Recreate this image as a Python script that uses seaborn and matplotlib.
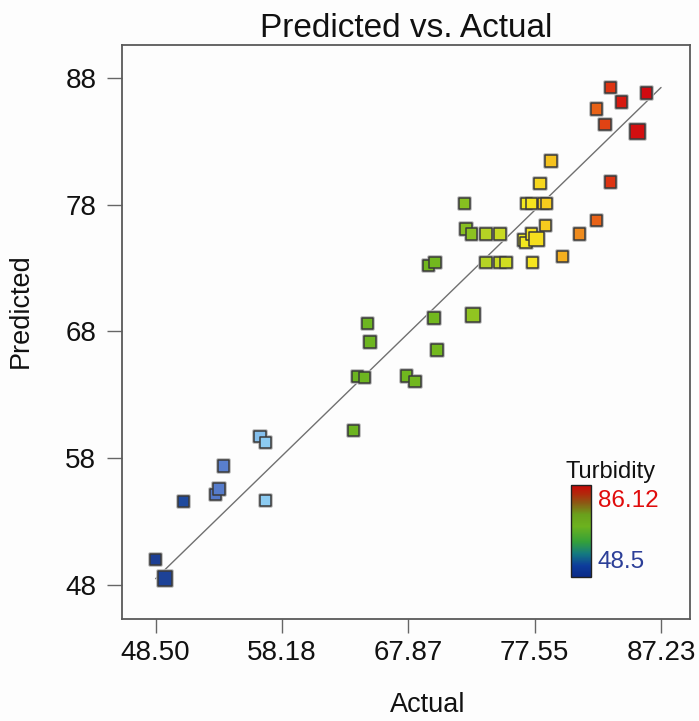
import numpy as np
import pandas as pd
import matplotlib
matplotlib.use("Agg")
import matplotlib.pyplot as plt
import matplotlib.patheffects as pe
from matplotlib.colors import LinearSegmentedColormap, Normalize
from matplotlib.cm import ScalarMappable
import seaborn as sns

# ---------------- data ----------------
actual = [48.50, 49.21, 50.62, 53.10, 53.35, 53.68, 56.49, 56.93, 56.93,
          63.65, 63.95, 64.49, 64.72, 64.93, 67.74, 68.37, 69.83, 70.06,
          69.39, 69.91, 72.15, 72.28, 72.72, 72.82, 73.82, 74.89, 73.82,
          74.89, 75.35, 77.40, 79.66, 76.68, 76.88, 77.32, 77.70, 78.39,
          80.97, 82.30, 76.94, 77.32, 78.21, 78.47, 77.95, 78.80, 83.37,
          82.30, 83.37, 84.22, 82.94, 85.41, 86.12]
predicted = [50.03, 48.53, 54.57, 55.15, 55.57, 57.38, 59.70, 59.25, 54.68,
             60.17, 64.46, 64.35, 68.64, 67.16, 64.48, 64.06, 69.06, 66.53,
             73.18, 73.42, 78.10, 76.08, 75.66, 69.29, 75.66, 75.66, 73.42,
             73.42, 73.42, 73.42, 73.89, 75.21, 75.00, 75.66, 75.29, 76.34,
             75.66, 76.73, 78.10, 78.10, 78.10, 78.10, 79.65, 81.44, 79.76,
             85.54, 87.22, 86.07, 84.33, 83.75, 86.78]
replicates = [1, 2, 1, 1, 1, 1, 1, 1, 1,
              1, 1, 1, 1, 1, 1, 1, 1, 1,
              1, 1, 1, 1, 1, 2, 1, 1, 1,
              1, 1, 1, 1, 1, 1, 1, 2, 1,
              1, 1, 1, 1, 1, 1, 1, 1, 1,
              1, 1, 1, 1, 2, 1]

x_ticks = [48.50, 58.18, 67.87, 77.55, 87.23]
x_tick_labels = ["48.50", "58.18", "67.87", "77.55", "87.23"]
y_ticks = [48, 58, 68, 78, 88]
y_tick_labels = ["48", "58", "68", "78", "88"]

turb_min, turb_max = 48.5, 86.12
title = "Predicted vs. Actual"
xlabel = "Actual"
ylabel = "Predicted"
cbar_title = "Turbidity"

df = pd.DataFrame({"Actual": actual, "Predicted": predicted, "Replicates": replicates})

# ---------------- style ----------------
sns.set_style("white")
plt.rcParams["font.family"] = ["Liberation Sans", "DejaVu Sans"]

point_cmap = LinearSegmentedColormap.from_list("pts", [
    (0.000, "#1c3f94"), (0.056, "#1f4a9e"), (0.122, "#5479c9"),
    (0.160, "#6088d2"), (0.223, "#8ccbf2"), (0.300, "#7cc6a0"),
    (0.402, "#6cb420"), (0.569, "#72b81e"), (0.643, "#8cc221"),
    (0.673, "#b4d324"), (0.702, "#c8da22"), (0.750, "#eee81f"),
    (0.768, "#f5e61e"), (0.795, "#f6cc1e"), (0.829, "#f4b21e"),
    (0.864, "#ee8a1e"), (0.898, "#ea6a18"), (0.917, "#e04414"),
    (0.949, "#d81a10"), (1.000, "#d00a10")])

bar_cmap = LinearSegmentedColormap.from_list("bar", [
    (0.00, "#0a2a88"), (0.12, "#0d3c9c"), (0.25, "#147a80"),
    (0.38, "#34a03a"), (0.55, "#6cb21e"), (0.68, "#6aa01c"),
    (0.80, "#8a5c14"), (0.90, "#b02a0c"), (1.00, "#c80808")])

W, H = 699, 721
fig = plt.figure(figsize=(W / 100, H / 100), dpi=100, facecolor="#fdfdfd")
ax = fig.add_axes([122 / W, 1 - 619 / H, (690 - 122) / W, (619 - 45) / H])
ax.set_facecolor("#fdfdfd")

# diagonal y = x reference line spanning the axis tick range
ax.plot([x_ticks[0], x_ticks[-1]], [x_ticks[0], x_ticks[-1]],
        color="#707070", lw=1.0, zorder=2)

sns.scatterplot(data=df, x="Actual", y="Predicted", hue="Actual",
                palette=point_cmap, hue_norm=(turb_min, turb_max),
                size="Replicates", sizes={1: 68, 2: 112},
                marker="s", edgecolor="#3a3a3a", linewidth=1.1,
                legend=False, ax=ax, zorder=3)
for coll in ax.collections:
    coll.set_path_effects([pe.Stroke(linewidth=2.6, foreground="#b8b8b8"),
                           pe.Normal()])

ax.set_xlim(45.92, 89.45)
ax.set_ylim(45.32, 90.58)
ax.set_xticks(x_ticks)
ax.set_xticklabels(x_tick_labels)
ax.set_yticks(y_ticks)
ax.set_yticklabels(y_tick_labels)
ax.tick_params(axis="x", length=10, width=1.0, color="#666666", pad=5,
               labelsize=20, labelcolor="#111111", direction="out", bottom=True)
ax.tick_params(axis="y", length=10.5, width=1.0, color="#666666", pad=8,
               labelsize=20, labelcolor="#111111", direction="out", left=True)
for sp in ax.spines.values():
    sp.set_color("#5a5a5a")
    sp.set_linewidth(1.3)

ax.set_title(title, fontsize=24, pad=6, color="#111111")
ax.set_xlabel(xlabel, fontsize=19.5, color="#111111")
ax.set_ylabel(ylabel, fontsize=19.5, color="#111111")
ax.xaxis.label.set_va("center")
ax.yaxis.label.set_va("center")
ax.xaxis.set_label_coords(0.538, -0.150)
ax.yaxis.set_label_coords(-0.178, 0.538)

# colorbar legend
cax = fig.add_axes([570.7 / W, 1 - 576.7 / H, 20 / W, 91.7 / H])
sm = ScalarMappable(norm=Normalize(turb_min, turb_max), cmap=bar_cmap)
cb = fig.colorbar(sm, cax=cax)
cb.set_ticks([])
cb.outline.set_edgecolor("#222222")
cb.outline.set_linewidth(1.0)

fig.text(611 / W, 1 - 478 / H, cbar_title, ha="center", va="baseline",
         fontsize=17, color="#111111")
fig.text(598 / W, 1 - 507 / H, f"{turb_max:.2f}", ha="left", va="baseline",
         fontsize=17.5, color="#e00c0c")
fig.text(598 / W, 1 - 568.3 / H, f"{turb_min:g}", ha="left", va="baseline",
         fontsize=17.5, color="#2c3f98")

fig.savefig("out.png", dpi=100, facecolor=fig.get_facecolor())
